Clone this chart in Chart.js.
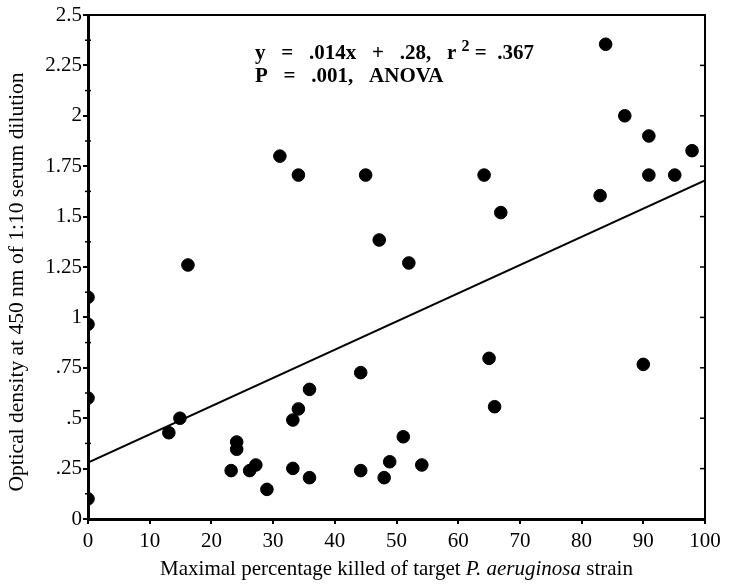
<!DOCTYPE html>
<html>
<head>
<meta charset="utf-8">
<script src="https://cdn.jsdelivr.net/npm/chart.js@4"></script>
<style>
  html, body { margin: 0; padding: 0; background: #fff; }
  #wrap { width: 729px; height: 584px; }
</style>
</head>
<body>
<div id="wrap"><canvas id="miGrafica" width="729" height="584"></canvas></div>
<script>
// data
let killedPct = [0, 0, 0, 0, 13.1, 14.9, 16.2, 23.2, 24.1, 24.1, 26.2, 27.2, 29.0,
  31.1, 33.2, 33.2, 34.1, 34.1, 35.9, 35.9, 44.2, 44.2, 45.0, 47.2, 48.0, 48.9,
  51.1, 52.0, 54.1, 64.2, 65.0, 65.9, 66.9, 83.0, 83.9, 87.0, 90.0, 90.9, 90.9,
  95.1, 97.9];
let odValues = [1.10, 0.966, 0.60, 0.10, 0.428, 0.50, 1.26, 0.24, 0.382, 0.346, 0.24, 0.268, 0.147,
  1.80, 0.491, 0.251, 0.546, 1.706, 0.643, 0.205, 0.726, 0.24, 1.706, 1.384, 0.205, 0.284,
  0.408, 1.27, 0.268, 1.706, 0.797, 0.557, 1.52, 1.604, 2.355, 2.0, 0.767, 1.90, 1.706,
  1.706, 1.827];
let fitX = [0, 100];
let fitY = [0.28, 1.68];
let yTickLabels = ["0", ".25", ".5", ".75", "1", "1.25", "1.5", "1.75", "2", "2.25", "2.5"];
let xTickLabels = ["0", "10", "20", "30", "40", "50", "60", "70", "80", "90", "100"];

let serif = "'Liberation Serif', 'Times New Roman', serif";

// frame, minor ticks, axis titles and the equation text
let extras = {
  id: "extras",
  afterDraw(chart) {
    let c = chart.ctx, a = chart.chartArea;
    let ys = chart.scales.y;
    c.save();
    c.strokeStyle = "#000";
    c.lineWidth = 2;
    c.beginPath();
    c.moveTo(a.left, a.top); c.lineTo(a.right, a.top); c.lineTo(a.right, a.bottom);
    c.stroke();
    c.lineWidth = 1.5;
    for (let v = 0.125; v < 2.5; v += 0.25) {
      let p = ys.getPixelForValue(v);
      c.beginPath(); c.moveTo(a.left - 3, p); c.lineTo(a.left + 3, p); c.stroke();
    }
    for (let v = 0.25; v < 2.5; v += 0.25) {
      let p = ys.getPixelForValue(v);
      c.beginPath(); c.moveTo(a.right - 5, p); c.lineTo(a.right, p); c.stroke();
    }
    c.fillStyle = "#000";
    c.textBaseline = "alphabetic";
    // y axis title
    c.save();
    c.translate(23, 282);
    c.rotate(-Math.PI / 2);
    c.font = "21.5px " + serif;
    c.textAlign = "center";
    c.fillText("Optical density at 450 nm of 1:10 serum dilution", 0, 0);
    c.restore();
    // x axis title with italic species name
    let parts = [["Maximal percentage killed of target ", "21px " + serif],
                 ["P. aeruginosa", "italic 21px " + serif],
                 [" strain", "21px " + serif]];
    let total = 0;
    parts.forEach(p => { c.font = p[1]; total += c.measureText(p[0]).width; });
    let x = (a.left + a.right) / 2 - total / 2;
    parts.forEach(p => { c.font = p[1]; c.fillText(p[0], x, 575); x += c.measureText(p[0]).width; });
    // regression text
    c.font = "bold 21px " + serif;
    let t1 = "y   =   .014x   +   .28,   r ";
    let tx = 255;
    c.fillText(t1, tx, 59);
    tx += c.measureText(t1).width;
    c.font = "bold 16px " + serif;
    c.fillText("2", tx, 51);
    tx += c.measureText("2").width;
    c.font = "bold 21px " + serif;
    c.fillText(" =  .367", tx, 59);
    c.fillText("P   =   .001,   ANOVA", 255, 82);
    c.restore();
  }
};

let chart = new Chart(document.getElementById("miGrafica").getContext("2d"), {
  type: "scatter",
  data: {
    datasets: [
      {
        label: "OD",
        data: killedPct.map((k, i) => ({ x: k, y: odValues[i] })),
        backgroundColor: "#000",
        borderColor: "#000",
        pointRadius: 6.3,
        pointHoverRadius: 6.3
      },
      {
        label: "fit",
        type: "line",
        data: fitX.map((k, i) => ({ x: k, y: fitY[i] })),
        borderColor: "#000",
        borderWidth: 2,
        pointRadius: 0,
        fill: false
      }
    ]
  },
  options: {
    responsive: false,
    animation: false,
    layout: { padding: { top: 15, right: 24, left: 0, bottom: 0 } },
    plugins: { legend: { display: false }, tooltip: { enabled: false } },
    scales: {
      x: {
        type: "linear", min: 0, max: 100,
        afterFit: s => { s.height = 65; },
        ticks: {
          stepSize: 10, color: "#000", padding: 5,
          font: { family: serif, size: 21 },
          callback: (v, i) => xTickLabels[i]
        },
        grid: { drawOnChartArea: false, color: "#000", lineWidth: 2, tickLength: 5 },
        border: { color: "#000", width: 3 }
      },
      y: {
        type: "linear", min: 0, max: 2.5,
        afterFit: s => { s.width = 88; },
        ticks: {
          stepSize: 0.25, color: "#000", padding: 1,
          font: { family: serif, size: 21 },
          callback: (v, i) => yTickLabels[i]
        },
        grid: { drawOnChartArea: false, color: "#000", lineWidth: 2, tickLength: 5 },
        border: { color: "#000", width: 3 }
      }
    }
  },
  plugins: [extras]
});
</script>
</body>
</html>
